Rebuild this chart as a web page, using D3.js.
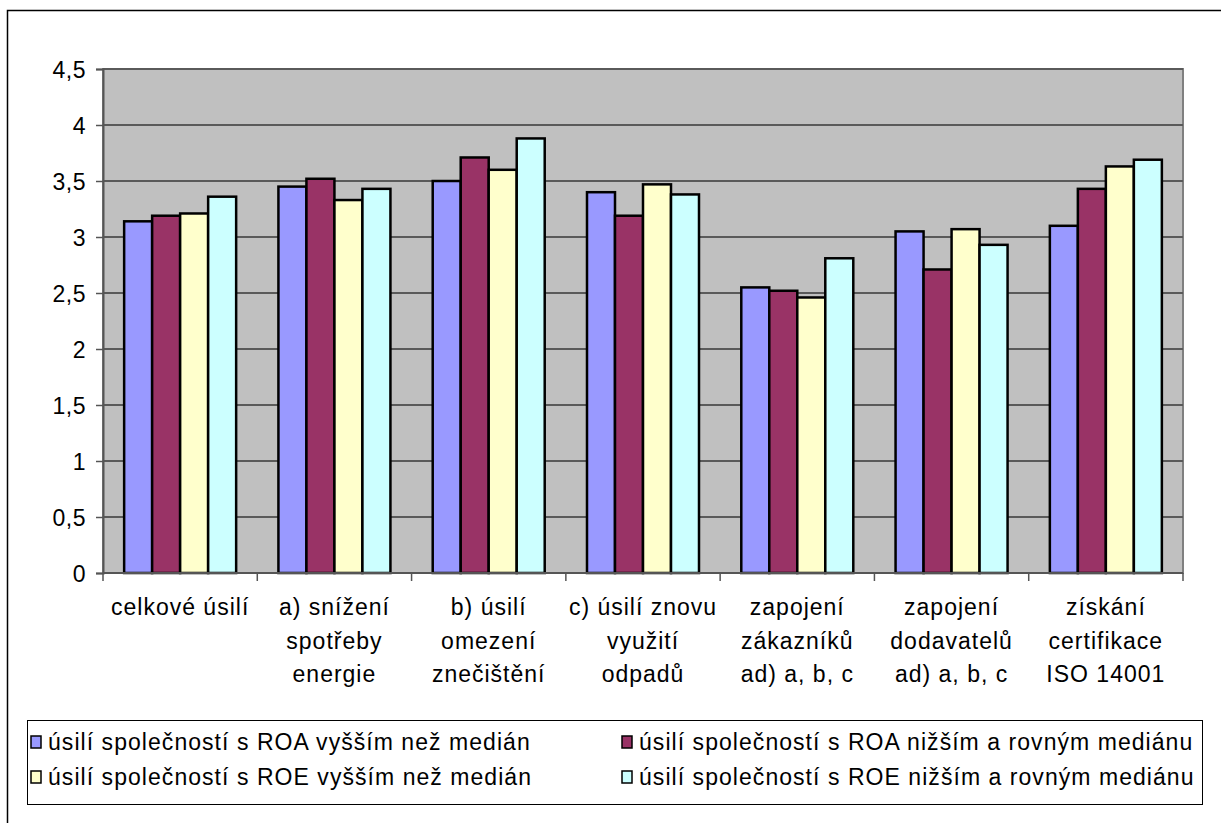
<!DOCTYPE html>
<html><head><meta charset="utf-8">
<script src="https://cdn.jsdelivr.net/npm/d3@7"></script>
<style>
html,body{margin:0;padding:0;background:#fff;}
svg{display:block;}
text{font-family:"Liberation Sans",Arial,sans-serif;fill:#000;}
</style></head><body>
<script>
const categories = [
  ["celkové úsilí"],
  ["a) snížení","spotřeby","energie"],
  ["b) úsilí","omezení","znečištění"],
  ["c) úsilí znovu","využití","odpadů"],
  ["zapojení","zákazníků","ad) a, b, c"],
  ["zapojení","dodavatelů","ad) a, b, c"],
  ["získání","certifikace","ISO 14001"]
];
const seriesNames = [
  "úsilí společností s ROA vyšším než medián",
  "úsilí společností s ROA nižším a rovným mediánu",
  "úsilí společností s ROE vyšším než medián",
  "úsilí společností s ROE nižším a rovným mediánu"
];
const roaHigh = [3.14, 3.45, 3.50, 3.40, 2.55, 3.05, 3.10];
const roaLow  = [3.19, 3.52, 3.71, 3.19, 2.52, 2.71, 3.43];
const roeHigh = [3.21, 3.33, 3.60, 3.47, 2.46, 3.07, 3.63];
const roeLow  = [3.36, 3.43, 3.88, 3.38, 2.81, 2.93, 3.69];
const colors = ["#9999FF","#993366","#FFFFCC","#CCFFFF"];
const yTicks = [0,0.5,1,1.5,2,2.5,3,3.5,4,4.5];
const seriesValues = [roaHigh, roaLow, roeHigh, roeLow];

const W = 1221, H = 823;
const svg = d3.select("body").append("svg").attr("width", W).attr("height", H);

// outer frame
svg.append("path").attr("d", `M7.5,${H+2} V10.5 H${W+2}`).attr("fill","none").attr("stroke","#000").attr("stroke-width",1.5);

const plot = {l:103, t:69, r:1183, b:573};
const catIdx = d3.range(categories.length);
const x0 = d3.scaleBand().domain(catIdx).range([plot.l, plot.r]).paddingInner(0).paddingOuter(0);
const x1 = d3.scaleBand().domain(d3.range(4)).range([0, x0.bandwidth()]).paddingInner(0).paddingOuter(0.755);
const y = d3.scaleLinear().domain([0,4.5]).range([plot.b, plot.t]);

svg.append("rect").attr("x",plot.l).attr("y",plot.t).attr("width",plot.r-plot.l).attr("height",plot.b-plot.t)
  .attr("fill","#C0C0C0").attr("stroke","#808080").attr("stroke-width",2);

// gridlines
svg.append("g").selectAll("line").data(yTicks.filter(d=>d>0)).join("line")
  .attr("x1",plot.l).attr("x2",plot.r).attr("y1",d=>y(d)).attr("y2",d=>y(d))
  .attr("stroke","#5a5a5a").attr("stroke-width",2);

// y axis
const yAxis = d3.axisLeft(y).tickValues(yTicks).tickSize(7).tickPadding(10)
  .tickFormat(d => String(d).replace(".", ","));
const gy = svg.append("g").attr("transform",`translate(${plot.l},0)`).call(yAxis);
gy.select(".domain").attr("stroke","#555").attr("stroke-width",2);
gy.selectAll(".tick line").attr("stroke","#555").attr("stroke-width",1.5);
gy.selectAll(".tick text").attr("font-size",23).attr("font-family","Liberation Sans, Arial, sans-serif").attr("fill","#000").attr("letter-spacing",0.5).attr("dy","0.36em");

// bars
const gBars = svg.append("g");
seriesValues.forEach((vals, s) => {
  gBars.append("g").selectAll("rect").data(vals).join("rect")
    .attr("x",(d,i)=>x0(i)+x1(s)).attr("width",x1.bandwidth())
    .attr("y",d=>y(d)).attr("height",d=>y(0)-y(d))
    .attr("fill",colors[s]).attr("stroke","#000").attr("stroke-width",2.5);
});

// x axis
svg.append("line").attr("x1",plot.l).attr("x2",plot.r).attr("y1",plot.b).attr("y2",plot.b).attr("stroke","#555").attr("stroke-width",2);
const bounds = catIdx.map(i=>x0(i)).concat([plot.r]);
svg.append("g").selectAll("line").data(bounds).join("line")
  .attr("x1",d=>d).attr("x2",d=>d).attr("y1",plot.b).attr("y2",plot.b+8)
  .attr("stroke","#555").attr("stroke-width",1.5);

const gx = svg.append("g");
categories.forEach((lines,i)=>{
  const cx = x0(i)+x0.bandwidth()/2;
  const t = gx.append("text").attr("text-anchor","middle").attr("font-size",23).attr("letter-spacing",1.0)
    .attr("x", cx).attr("y", 615);
  lines.forEach((ln,k)=>{
    t.append("tspan").attr("x", cx).attr("y", 615+k*33.5).text(ln);
  });
});

// legend
svg.append("rect").attr("x",27.5).attr("y",720.5).attr("width",1175).attr("height",84)
  .attr("fill","#fff").attr("stroke","#000").attr("stroke-width",1);
const legPos = [[31,742],[622,742],[31,777],[622,777]];
seriesNames.forEach((name,s)=>{
  const [lx,ly] = legPos[s];
  svg.append("rect").attr("x",lx).attr("y",ly-6).attr("width",10).attr("height",12)
    .attr("fill",colors[s]).attr("stroke","#000").attr("stroke-width",1.5);
  svg.append("text").attr("x",lx+17).attr("y",ly+8).attr("font-size",23).attr("letter-spacing",1.05).text(name);
});
</script>
</body></html>
